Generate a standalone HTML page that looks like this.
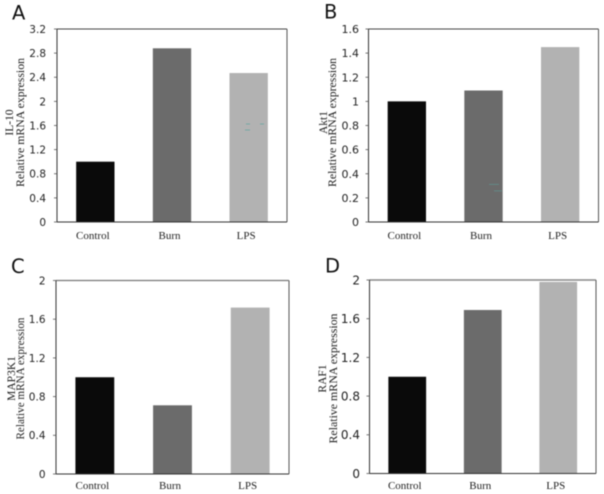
<!DOCTYPE html>
<html lang="en">
<head>
<meta charset="utf-8">
<title>Relative mRNA expression panels</title>
<style>
html,body{margin:0;padding:0;background:#fff;width:604px;height:494px;overflow:hidden}
svg{display:block;filter:blur(.45px)}
.tick{font-family:"DejaVu Sans",sans-serif;fill:#222;text-anchor:end}
.cat{font-family:"Liberation Serif",serif;font-size:11px;fill:#222;text-anchor:middle}
.ttl{font-family:"Liberation Serif",serif;font-size:11.5px;fill:#222;text-anchor:middle}
.letter{font-family:"DejaVu Sans",sans-serif;font-size:19.5px;fill:#111}
</style>
</head>
<body>
<svg id="figure" xmlns="http://www.w3.org/2000/svg" width="604" height="494" viewBox="0 0 604 494">
<g id="panels"></g>
<g fill="#5aa6a0" opacity=".7">
<rect x="246" y="123.5" width="4" height="1"/><rect x="245" y="129.5" width="5" height="1"/><rect x="260" y="123.5" width="4" height="1"/>
<rect x="489" y="184" width="10" height=".7"/><rect x="494" y="190.5" width="8" height=".7"/>
</g>
</svg>
<script>
const categories = ['Control', 'Burn', 'LPS'];
const barColors = ['#0a0a0a', '#6b6b6b', '#b2b2b2'];

const valuesA = [1.0, 2.88, 2.47];
const valuesB = [1.0, 1.09, 1.45];
const valuesC = [1.0, 0.71, 1.72];
const valuesD = [1.0, 1.69, 1.98];

const ticksA = ['0', '0.4', '0.8', '1.2', '1.6', '2', '2.4', '2.8', '3.2'];
const ticksB = ['0', '0.2', '0.4', '0.6', '0.8', '1', '1.2', '1.4', '1.6'];
const ticksC = ['0', '0.4', '0.8', '1.2', '1.6', '2'];
const ticksD = ['0', '0.4', '0.8', '1.2', '1.6', '2'];

const panels = [
  {id:'a', letter:'A', gene:'IL-10',  values:valuesA, ticks:ticksA, box:[57, 29, 287, 222],      lx:12,  ly:19.5, t1:9,   t2:20,  ty:122.5, tlen:129, catY:239, tickX:46,  tickSize:10.5, topC:'#444', topW:1},
  {id:'b', letter:'B', gene:'Akt1',   values:valuesB, ticks:ticksB, box:[368.5, 29, 598.5, 222], lx:324, ly:18.5, t1:323, t2:332, ty:122.5, tlen:129, catY:239, tickX:359, tickSize:11,   topC:'#444', topW:1},
  {id:'c', letter:'C', gene:'MAP3K1', values:valuesC, ticks:ticksC, box:[56, 280.5, 289, 474],   lx:11,  ly:273,  t1:11,  t2:20,  ty:378.5, tlen:122, catY:489, tickX:45.5,tickSize:10.5, topC:'#777', topW:1.2},
  {id:'d', letter:'D', gene:'RAF1',   values:valuesD, ticks:ticksD, box:[369.5, 280, 596, 473.5],lx:325, ly:272.5,t1:322, t2:333, ty:378.5, tlen:130, catY:489, tickX:360, tickSize:12,   topC:'#888', topW:1.5}
];

const NS = 'http://www.w3.org/2000/svg';
const root = document.getElementById('panels');

function make(tag, attrs, parent, text) {
  const node = document.createElementNS(NS, tag);
  for (const k in attrs) node.setAttribute(k, attrs[k]);
  if (text !== undefined) node.textContent = text;
  parent.appendChild(node);
  return node;
}

panels.forEach(function (p) {
  const left = p.box[0], top = p.box[1], right = p.box[2], bottom = p.box[3];
  const maxVal = parseFloat(p.ticks[p.ticks.length - 1]);
  const yScale = function (v) { return bottom - (v / maxVal) * (bottom - top); };
  const band = (right - left) / categories.length;
  const xCenter = function (i) { return left + band * (i + 0.5); };
  const barW = band * 0.5;

  const g = make('g', {}, root);
  
  

  const letter = make('text', {x: p.lx, y: p.ly, class: 'letter'}, g, p.letter);
  
  

  const frameTop = make('line', {x1: left, y1: top, x2: right, y2: top, stroke: p.topC, 'stroke-width': p.topW}, g);
  
  
  const frameRight = make('line', {x1: right, y1: top, x2: right, y2: bottom, stroke: '#555', 'stroke-width': 1}, g);
  
  

  p.values.forEach(function (v, i) {
    const cx = xCenter(i);
    const y = yScale(v);
    const bar = make('rect', {x: cx - barW / 2, y: y, width: barW, height: bottom - y, fill: barColors[i]}, g);
    
    

    const cat = make('text', {x: cx - 2.5, y: p.catY, class: 'cat'}, g, categories[i]);
    
    
  });

  const axisY = make('line', {x1: left, y1: top, x2: left, y2: bottom, stroke: '#333', 'stroke-width': 1}, g);
  
  
  const axisX = make('line', {x1: left, y1: bottom, x2: right, y2: bottom, stroke: '#333', 'stroke-width': 1}, g);
  
  

  p.ticks.forEach(function (t) {
    const y = yScale(parseFloat(t));
    const mark = make('line', {x1: left - 3, y1: y, x2: left, y2: y, stroke: '#555', 'stroke-width': 0.8}, g);
    
    
    const label = make('text', {x: p.tickX, y: y + p.tickSize * 0.37, class: 'tick', 'font-size': p.tickSize}, g, t);
    
    
  });

  const title1 = make('text', {class: 'ttl', transform: 'translate(' + (p.t1 + 4) + ',' + p.ty + ') rotate(-90)'}, g, p.gene);
  
  
  const title2 = make('text', {class: 'ttl', textLength: p.tlen, lengthAdjust: 'spacingAndGlyphs', transform: 'translate(' + (p.t2 + 4) + ',' + p.ty + ') rotate(-90)'}, g, 'Relative mRNA expression');
  
  
});
</script>
</body>
</html>
